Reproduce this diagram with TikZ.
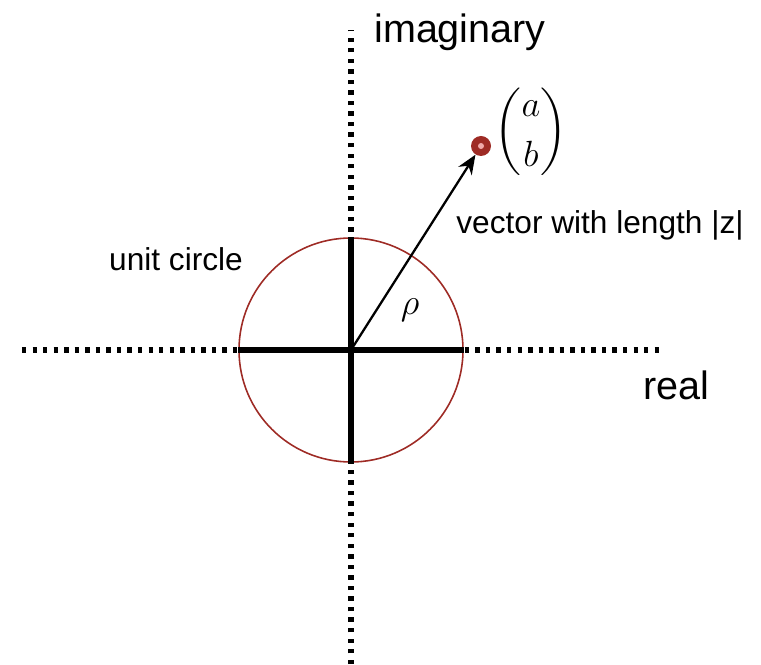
\documentclass[tikz,border=0pt]{standalone}
\usepackage{amsmath}
\usepackage{fontspec}
\setmainfont{Liberation Sans}
\usetikzlibrary{arrows.meta}

\definecolor{circred}{RGB}{158,43,37}
\definecolor{dotpink}{RGB}{240,170,170}

\begin{document}
\begin{tikzpicture}[
        axis/.style={line width=2.9pt, dash pattern=on 2.5pt off 3.5pt},
        cross/.style={line width=3.2pt},
        lbl/.style={font=\fontsize{18}{20}\selectfont, inner sep=0pt},
        big/.style={font=\fontsize{22.5}{26}\selectfont, inner sep=0pt},
        pt/.style={circle, fill=circred, minimum size=.4cm, inner sep=0pt}]

      \useasboundingbox (-7.02,-6.28) rectangle (8.2,7.0);

      % axes
      \coordinate (O) at (0,0);
      \coordinate (xl) at (-6.58,0);
      \coordinate (xr) at (6.22,0);
      \coordinate (yt) at (0,6.4);
      \coordinate (yb) at (0,-6.28);
      \draw[axis] (xl) -- (xr);
      \draw[axis] (yb) -- (yt);

      % unit circle
      \node[circle, draw=circred, line width=.9pt, minimum size=4.48cm,
        inner sep=0pt] (uc) at (O) {};
      \draw[cross] (uc.west) -- (uc.east);
      \draw[cross] (uc.south) -- (uc.north);

      % the point and its vector
      \node[pt] (z) at (2.6,4.08) {};
      \node[circle, fill=dotpink, minimum size=.12cm, inner sep=0pt] (zc) at (z) {};
      \draw[line width=1.3pt, -{Stealth[length=11pt, width=9pt]}] (O) -- (z);

      % labels
      \node[big] (im) at (2.18,6.36) {imaginary};
      \node[big] (re) at (6.5,-0.7) {real};
      \node[lbl] (ucl) at (-3.5,1.82) {unit circle};
      \node[lbl] (vl) at (4.98,2.5) {vector with length |z|};
      \node[font=\huge] (rho) at (1.18,0.8) {$\rho$};
      \node[font=\huge, inner sep=1pt] (ab) at (3.6,4.36)
        {$\displaystyle\binom{a}{b}$};
    \end{tikzpicture}
\end{document}
